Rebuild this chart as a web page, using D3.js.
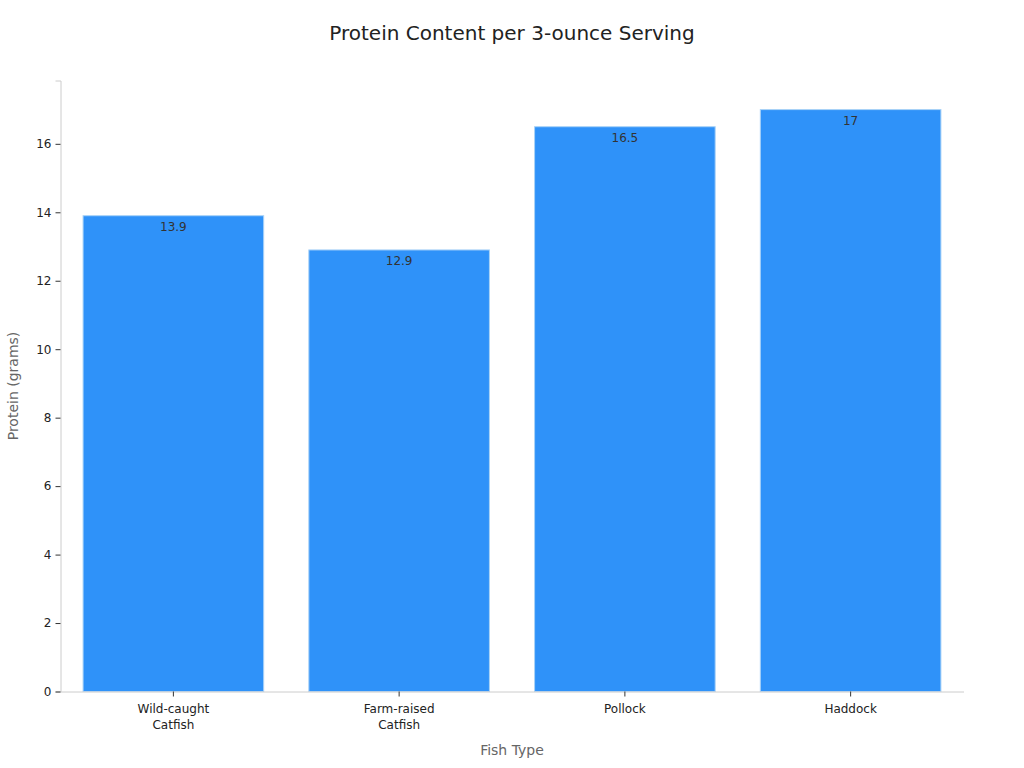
<!DOCTYPE html>
<html>
<head>
<meta charset="utf-8">
<script src="https://cdn.jsdelivr.net/npm/d3@7"></script>
<style>
  body { margin: 0; background: #fff; }
  text { font-family: "DejaVu Sans", sans-serif; }
</style>
</head>
<body>
<svg id="chart" width="1024" height="768"></svg>
<script>
const categories = ['Wild-caught\nCatfish', 'Farm-raised\nCatfish', 'Pollock', 'Haddock'];
const protein = [13.9, 12.9, 16.5, 17];
const yTicks = [0, 2, 4, 6, 8, 10, 12, 14, 16];

const margin = { top: 80.5, right: 60.5, bottom: 76.5, left: 60.5 };
const width = 1024 - margin.left - margin.right;
const height = 768 - margin.top - margin.bottom;

const svg = d3.select('#chart');
const g = svg.append('g').attr('transform', `translate(${margin.left},${margin.top})`);

const x = d3.scaleBand()
  .domain(categories)
  .range([0, width])
  .paddingInner(0.2)
  .paddingOuter(0.1);

const y = d3.scaleLinear()
  .domain([0, d3.max(protein) * 1.05])
  .range([height, 0]);

/* bars */
g.selectAll('rect.bar')
  .data(protein)
  .enter().append('rect')
  .attr('class', 'bar')
  .attr('x', (d, i) => x(categories[i]))
  .attr('y', (d) => y(d))
  .attr('width', x.bandwidth())
  .attr('height', (d) => height - y(d))
  .attr('fill', '#2f92f9')
  .attr('stroke', '#a9d2f7')
  .attr('stroke-width', 1);

/* value labels inside bar tops */
g.selectAll('text.value')
  .data(protein)
  .enter().append('text')
  .attr('class', 'value')
  .attr('x', (d, i) => x(categories[i]) + x.bandwidth() / 2)
  .attr('y', (d) => y(d) + 15)
  .attr('text-anchor', 'middle')
  .attr('font-size', 12)
  .attr('fill', '#333')
  .text((d) => d);

/* y axis */
const yAxis = g.append('g')
  .call(d3.axisLeft(y).tickValues(yTicks).tickSize(5).tickPadding(4));
yAxis.select('.domain').attr('stroke', '#ccc');
yAxis.selectAll('.tick line').attr('stroke', '#333');
yAxis.selectAll('.tick text').attr('font-size', 12).attr('fill', '#222')
  .style('font-family', '"DejaVu Sans", sans-serif');

/* x axis */
const xAxis = g.append('g')
  .attr('transform', `translate(0,${height})`)
  .call(d3.axisBottom(x).tickSize(5).tickPadding(6).tickSizeOuter(0));
xAxis.select('.domain').attr('stroke', '#ccc');
xAxis.selectAll('.tick line').attr('stroke', '#333');
xAxis.selectAll('.tick text').each(function (d) {
  const t = d3.select(this);
  const lines = d.split('\n');
  t.text(null)
    .attr('font-size', 12)
    .attr('fill', '#222')
    .style('font-family', '"DejaVu Sans", sans-serif');
  lines.forEach((ln, k) => {
    t.append('tspan').attr('x', 0).attr('dy', k === 0 ? '0.9em' : '1.3em').text(ln);
  });
});

/* axis titles */
svg.append('text')
  .attr('x', margin.left + width / 2)
  .attr('y', 755)
  .attr('text-anchor', 'middle')
  .attr('font-size', 14)
  .attr('fill', '#666')
  .text('Fish Type');

svg.append('text')
  .attr('transform', `translate(18,${margin.top + height / 2}) rotate(-90)`)
  .attr('text-anchor', 'middle')
  .attr('font-size', 14)
  .attr('fill', '#666')
  .text('Protein (grams)');

/* title */
svg.append('text')
  .attr('x', 512)
  .attr('y', 40)
  .attr('text-anchor', 'middle')
  .attr('font-size', 20)
  .attr('fill', '#222')
  .text('Protein Content per 3-ounce Serving');
</script>
</body>
</html>
